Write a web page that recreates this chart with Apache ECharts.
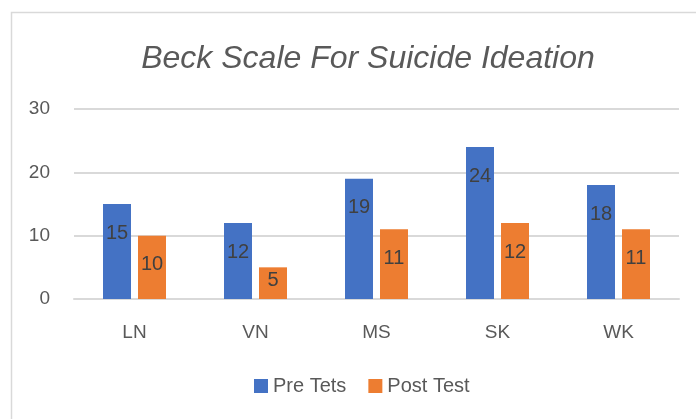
<!DOCTYPE html>
<html>
<head>
<meta charset="utf-8">
<script src="https://cdn.jsdelivr.net/npm/echarts@6/dist/echarts.min.js"></script>
<style>
  html, body { margin: 0; padding: 0; background: #fff; }
  #main { width: 696px; height: 419px; }
</style>
</head>
<body>
<div id="main"></div>
<script>
// data
var categories = ['LN', 'VN', 'MS', 'SK', 'WK'];
var preTest = [15, 12, 19, 24, 18];
var postTest = [10, 5, 11, 12, 11];
var seriesNames = ['Pre Tets', 'Post Test'];
var yTicks = { min: 0, max: 30, interval: 10 };

var myChart = echarts.init(document.getElementById('main'));

var font = "'Liberation Sans', Arial, sans-serif";

// labels sit inside the top of the bar; short bars get them pushed up
function toData(values) {
    return values.map(function (v) {
        return v < 8 ? { value: v, label: { distance: 3 } } : v;
    });
}

function barSeries(name, values, color) {
    return {
        name: name,
        type: 'bar',
        data: toData(values),
        barWidth: 28,
        barGap: '25%',
        itemStyle: { color: color },
        label: {
            show: true,
            position: 'insideTop',
            distance: 19,
            color: '#404040',
            fontSize: 20,
            fontFamily: font
        }
    };
}

var option = {
    backgroundColor: '#fff',
    animation: false,
    title: {
        text: 'Beck Scale For Suicide Ideation',
        left: 363,
        textAlign: 'center',
        top: 38,
        textStyle: {
            color: '#595959',
            fontSize: 32,
            fontStyle: 'italic',
            fontWeight: 'normal',
            fontFamily: font
        }
    },
    graphic: [{
        type: 'rect',
        left: 9, top: 10,
        shape: { width: 720, height: 440 },
        style: { fill: 'none', stroke: '#d9d9d9', lineWidth: 1.5 },
        silent: true
    }],
    legend: {
        data: seriesNames,
        left: 249,
        top: 371,
        itemWidth: 14,
        itemHeight: 14,
        itemGap: 22,
        icon: 'rect',
        textStyle: { color: '#595959', fontSize: 20, fontFamily: font }
    },
    grid: { left: 74, right: 17, top: 109, bottom: 120 },
    xAxis: {
        type: 'category',
        data: categories,
        axisLine: { lineStyle: { color: '#d9d9d9', width: 2 } },
        axisTick: { show: false },
        axisLabel: { color: '#595959', fontSize: 19, fontFamily: font, margin: 24 }
    },
    yAxis: {
        type: 'value',
        min: yTicks.min,
        max: yTicks.max,
        interval: yTicks.interval,
        axisLine: { show: false },
        axisTick: { show: false },
        splitLine: { lineStyle: { color: '#d9d9d9', width: 2 } },
        axisLabel: { color: '#595959', fontSize: 19, fontFamily: font, margin: 24 }
    },
    series: [
        barSeries(seriesNames[0], preTest, '#4472C4'),
        barSeries(seriesNames[1], postTest, '#ED7D31')
    ]
};

myChart.setOption(option);
</script>
</body>
</html>
